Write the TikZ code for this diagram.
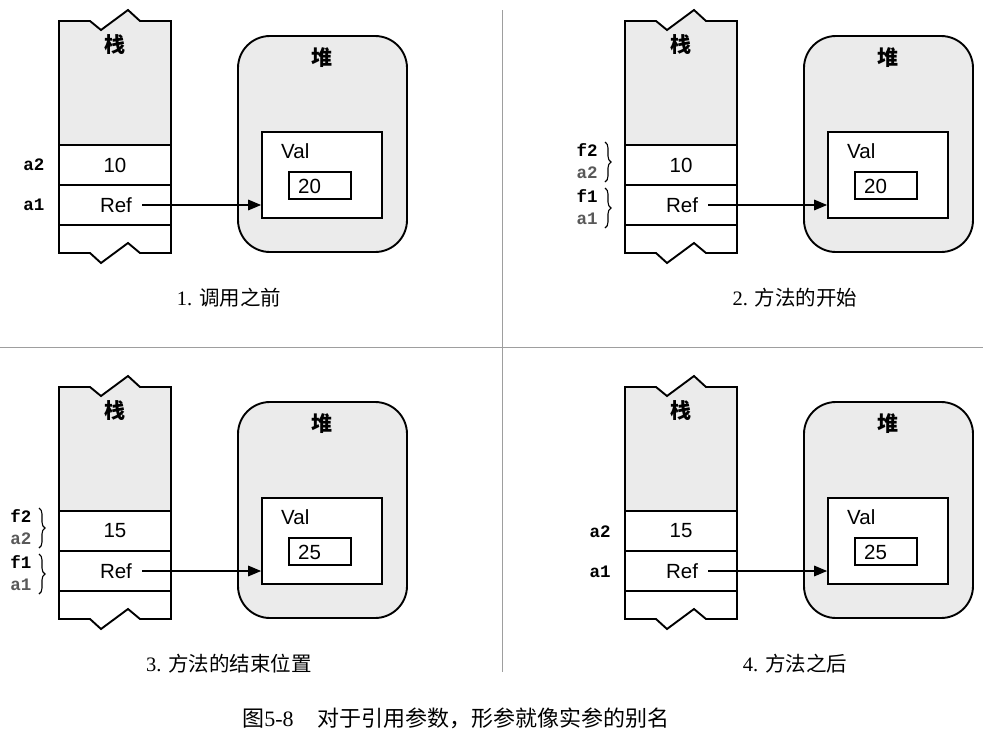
\documentclass[tikz,border=0pt]{standalone}
\usepackage{fontspec}
\setmainfont{Liberation Serif}
\newfontfamily\cjk{Noto Sans CJK SC}
\newfontfamily\sansf{Liberation Sans}
\newfontfamily\monof{Liberation Mono}
\usetikzlibrary{arrows.meta,decorations.pathreplacing}
\definecolor{fillgray}{gray}{0.92}
\definecolor{labgray}{gray}{0.35}
\definecolor{divgray}{gray}{0.62}
\tikzset{
 outline/.style={line width=1.9pt, line join=miter},
 stackfill/.style={fill=fillgray},
 cell/.style={draw, line width=1.9pt, fill=white, minimum width=112pt, minimum height=40pt, inner sep=0pt, font=\sansf\fontsize{20.5}{20.5}\selectfont},
 celltext/.style={font=\sansf\fontsize{20.5}{20.5}\selectfont, inner sep=0pt},
 reftext/.style={celltext, inner xsep=10pt},
 heap/.style={draw, line width=1.9pt, fill=fillgray, rounded corners=32pt, minimum width=169pt, minimum height=216pt, inner sep=0pt},
 valbox/.style={draw, line width=1.7pt, fill=white, minimum width=120pt, minimum height=86pt, inner sep=0pt},
 numbox/.style={draw, line width=1.7pt, fill=white, minimum width=62pt, minimum height=27pt, inner sep=0pt},
 cjklabel/.style={font=\cjk\bfseries\fontsize{21}{21}\selectfont, inner sep=0pt},
 monolabel/.style={font=\monof\bfseries\fontsize{17.5}{17.5}\selectfont, inner sep=0pt},
 subcaption/.style={font=\fontsize{20.5}{20.5}\selectfont, inner sep=0pt},
 refarrow/.style={line width=1.6pt, -{Triangle[length=13pt,width=10.5pt]}},
 divider/.style={draw=divgray, line width=1pt},
 bracestyle/.style={line width=1.1pt, decorate, decoration={brace, amplitude=6pt}},
}
\newcommand\mypanel[6]{%
\begin{scope}[shift={(#2,#3)}]
\fill[stackfill] (59,145) -- (59,21) -- (90,21) -- (101,30) -- (128,10) -- (140,21) -- (171,21) -- (171,145) -- cycle;
\node[cell] (#1v) at (115,165) {#4};
\node[cell] (#1r) at (115,205) {};
\node[reftext] (#1ref) at (116,205) {Ref};
\draw[outline] (59,21) -- (90,21) -- (101,30) -- (128,10) -- (140,21) -- (171,21) -- (171,253) -- (140,253) -- (128,243) -- (101,263) -- (90,253) -- (59,253) -- cycle;
\node[cjklabel] (#1stk) at (115,45) {栈};
\node[heap] (#1heap) at (322.5,144) {};
\node[cjklabel] (#1hl) at (322,58) {堆};
\node[valbox] (#1val) at (322,175) {};
\node[celltext, anchor=west] (#1vl) at (281,151) {Val};
\node[numbox] (#1num) at (320,185.5) {};
\node[celltext, anchor=west] (#1n) at (298,186) {#5};
\draw[refarrow] (#1ref.east) -- (#1ref.east -| #1val.west);
\node[subcaption] (#1cap) at (229,298) {#6};
\end{scope}}
\begin{document}
\begin{tikzpicture}[x=1pt,y=-1pt]
\useasboundingbox (0,0) rectangle (983,740);
% dividers
\coordinate (vt) at (502,10);
\coordinate (vb) at (502,672);
\coordinate (hl) at (0,347);
\coordinate (hr) at (983,347);
\draw[divider] (vt) -- (vb);
\draw[divider] (hl) -- (hr);
% panels
\mypanel{pa}{0}{0}{10}{20}{1. {\cjk 调用之前}}
\mypanel{pb}{566}{0}{10}{20}{2. {\cjk 方法的开始}}
\mypanel{pc}{0}{366}{15}{25}{3. {\cjk 方法的结束位置}}
\mypanel{pd}{566}{366}{15}{25}{4. {\cjk 方法之后}}
% labels panel 1
\node[monolabel] (la2) at (34,165) {a2};
\node[monolabel] (la1) at (34,205) {a1};
% labels panel 4
\node[monolabel] (ld2) at (600,532) {a2};
\node[monolabel] (ld1) at (600,572) {a1};
% labels panel 2
\node[monolabel] (lbf2) at (587,150) {f2};
\node[monolabel, text=labgray] (lba2) at (587,173) {a2};
\node[monolabel] (lbf1) at (587,196) {f1};
\node[monolabel, text=labgray] (lba1) at (587,219) {a1};
\coordinate (bb1t) at (605,142);
\coordinate (bb1b) at (605,182);
\coordinate (bb2t) at (605,188);
\coordinate (bb2b) at (605,228);
\draw[bracestyle] (bb1t) -- (bb1b);
\draw[bracestyle] (bb2t) -- (bb2b);
% labels panel 3
\node[monolabel] (lcf2) at (21,516) {f2};
\node[monolabel, text=labgray] (lca2) at (21,539) {a2};
\node[monolabel] (lcf1) at (21,562) {f1};
\node[monolabel, text=labgray] (lca1) at (21,585) {a1};
\coordinate (cb1t) at (39,508);
\coordinate (cb1b) at (39,548);
\coordinate (cb2t) at (39,554);
\coordinate (cb2b) at (39,594);
\draw[bracestyle] (cb1t) -- (cb1b);
\draw[bracestyle] (cb2t) -- (cb2b);
% figure caption
\node[font=\fontsize{22}{22}\selectfont, inner sep=0pt] (figcap) at (456,718) {{\cjk 图}5-8\hspace{24pt}{\cjk 对于引用参数，形参就像实参的别名}};
\end{tikzpicture}
\end{document}
